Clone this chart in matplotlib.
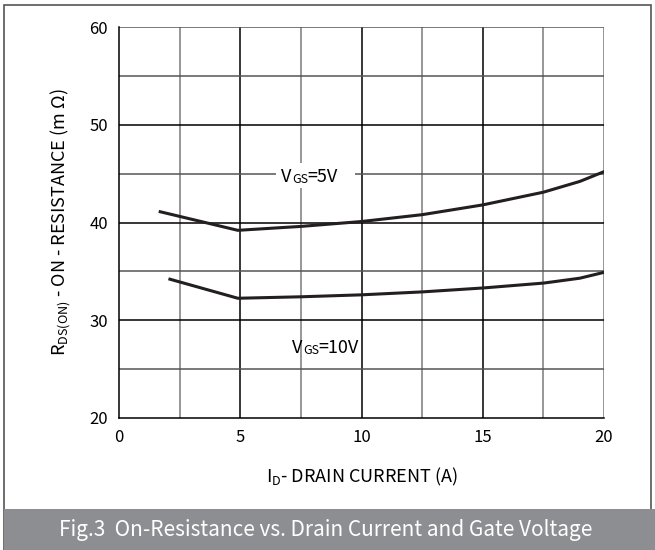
import matplotlib.pyplot as plt
from matplotlib.patches import Rectangle

# --- Data ---
id_5v = [1.7, 4.9, 7.5, 10, 12.5, 15, 17.5, 19, 20]
r_5v = [41.1, 39.2, 39.6, 40.1, 40.8, 41.8, 43.1, 44.2, 45.2]
id_10v = [2.1, 4.9, 7.5, 10, 12.5, 15, 17.5, 19, 20]
r_10v = [34.2, 32.25, 32.4, 32.6, 32.9, 33.3, 33.8, 34.3, 34.9]
x_ticks = [0, 5, 10, 15, 20]
y_ticks = [20, 30, 40, 50, 60]

font = "Noto Sans CJK SC"
plt.rcParams["font.family"] = [font, "DejaVu Sans"]

fig = plt.figure(figsize=(6.55, 5.5), dpi=100)

# --- Frame and caption bar ---
fig.patches.append(Rectangle((4 / 655, 0), 647 / 655, 545 / 550, transform=fig.transFigure,
                             fill=False, edgecolor="#555555", lw=1.2))
fig.patches.append(Rectangle((4 / 655, 0), 651 / 655, 41 / 550, transform=fig.transFigure,
                             facecolor="#8d8e92", edgecolor="none"))
fig.text(0.497, 20 / 550, "Fig.3  On-Resistance vs. Drain Current and Gate Voltage",
         ha="center", va="center", color="white", fontsize=15)

# --- Axes ---
ax = fig.add_axes([119 / 655, 1 - 418 / 550, 485 / 655, 391 / 550])
ax.set_xlim(0, 20)
ax.set_ylim(20, 60)

for x in [2.5, 5, 7.5, 10, 12.5, 15, 17.5, 20]:
    c = "black" if x in (5, 10, 15) else "#7a7a7a"
    ax.axvline(x, color=c, lw=1.1, zorder=1)
for y in [25, 30, 35, 40, 45, 50, 55, 60]:
    c = "black" if y in (30, 40, 50) else "#555555"
    ax.axhline(y, color=c, lw=1.1, zorder=1)

for side in ["top", "right"]:
    ax.spines[side].set_visible(False)
for side in ["left", "bottom"]:
    ax.spines[side].set_color("black")
    ax.spines[side].set_linewidth(1.1)

ax.plot(id_5v, r_5v, color="#231f20", lw=2.2, zorder=3)
ax.plot(id_10v, r_10v, color="#231f20", lw=2.2, zorder=3)

# white patch that breaks the grid behind the 5V label
ax.add_patch(Rectangle((6.47, 43.5), 3.26, 2.6, facecolor="white", edgecolor="none", zorder=2))


# "V" + small "GS" on the baseline + "=..V"
def vgs_label(x, y, value):
    t1 = ax.text(x, y, "V", ha="left", va="bottom", fontsize=13, zorder=5)
    t2 = ax.annotate("GS", xy=(1, 0), xycoords=t1, ha="left", va="bottom",
                     fontsize=9, zorder=5, xytext=(0, 0.5), textcoords="offset points")
    ax.annotate("=" + value, xy=(1, 0), xycoords=t2, ha="left", va="bottom",
                fontsize=13, zorder=5, xytext=(0, -0.5), textcoords="offset points")


vgs_label(6.7, 43.7, "5V")
vgs_label(7.15, 26.2, "10V")

ax.set_xticks(x_ticks)
ax.set_yticks(y_ticks)
ax.tick_params(length=0, labelsize=12, pad=8)

ax.set_xlabel("I$_{\\mathregular{D}}$- DRAIN CURRENT (A)", fontsize=13, labelpad=14)
ax.set_ylabel("R$_{\\mathregular{DS(ON)}}$ - ON - RESISTANCE (m Ω)", fontsize=13, labelpad=12)

fig.savefig("out.png", dpi=100)
